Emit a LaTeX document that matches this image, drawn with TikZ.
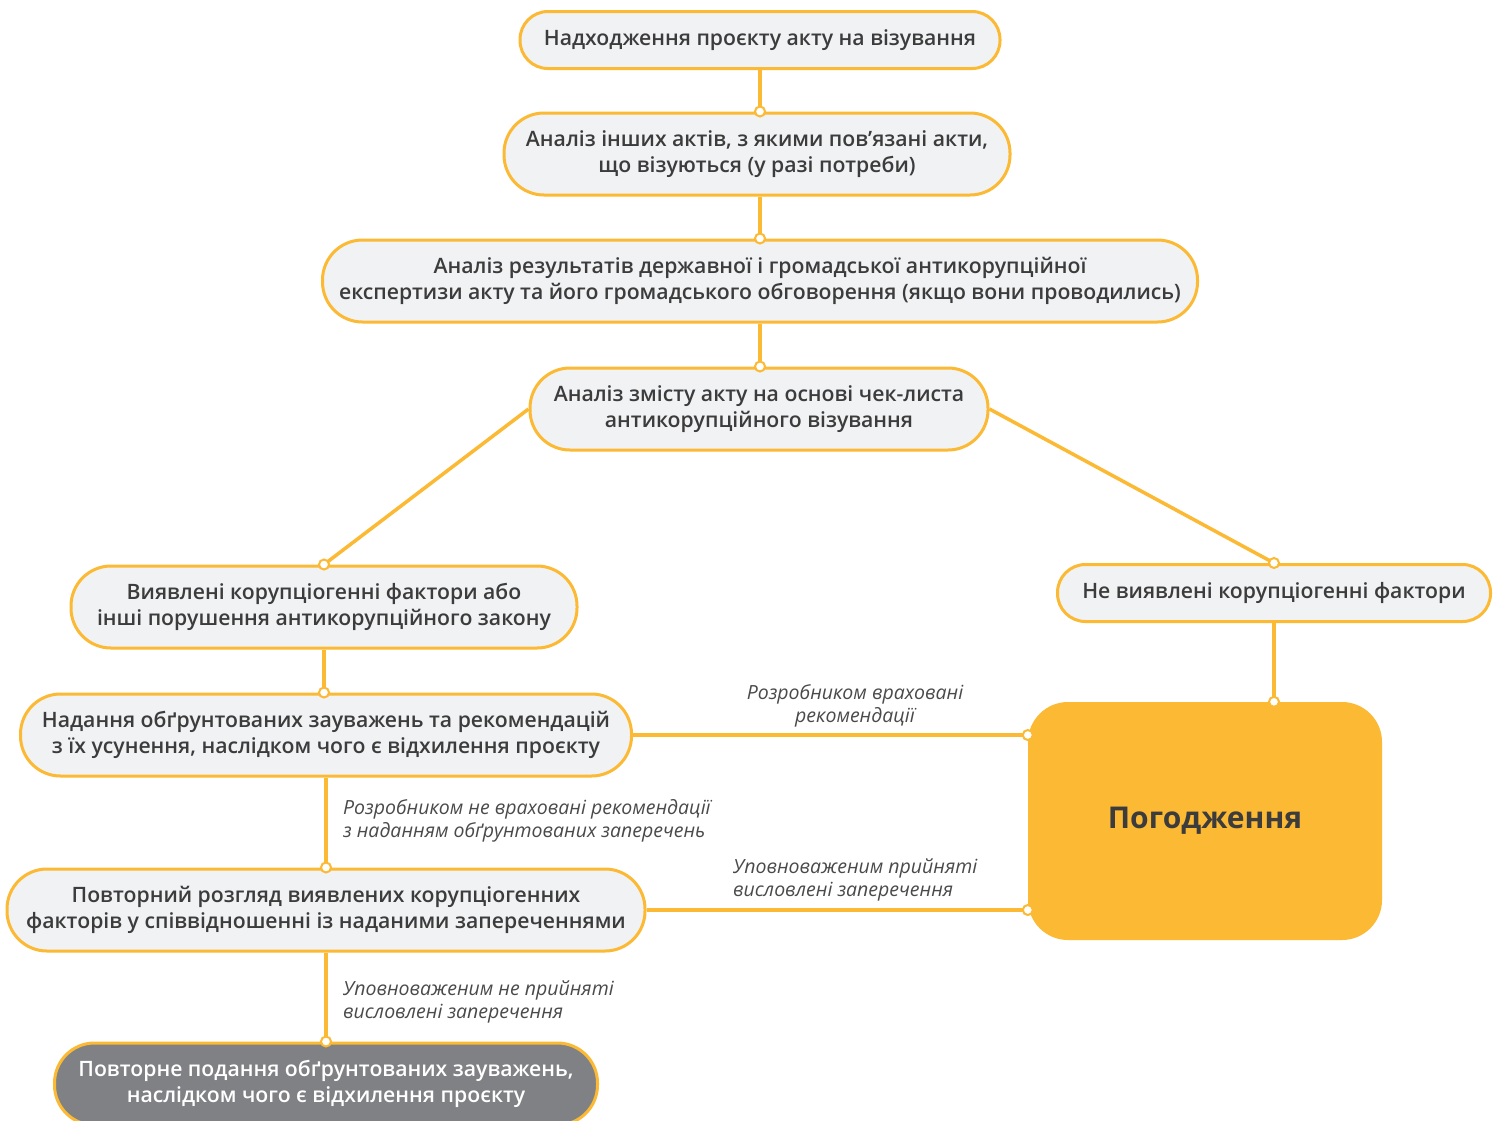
\documentclass[tikz,border=0pt]{standalone}
\usepackage{fontspec}
\IfFontExistsTF{Open Sans SemiBold}{%
  \setmainfont{Open Sans SemiBold}[BoldFont={Open Sans Bold},ItalicFont={Open Sans Italic}]}{%
  \IfFontExistsTF{Open Sans Semibold}{%
    \setmainfont{Open Sans Semibold}[BoldFont={Open Sans Bold},ItalicFont={Open Sans Italic}]}{%
    \setmainfont{Open Sans}}}
\IfFontExistsTF{Open Sans SemiBold Italic}{%
  \newfontfamily\lblfont{Open Sans SemiBold Italic}}{%
  \newfontfamily\lblfont{Open Sans Italic}}
\definecolor{ylw}{HTML}{FBB934}
\definecolor{nodefill}{HTML}{F1F2F4}
\definecolor{txt}{HTML}{3C3C3C}
\definecolor{lbltxt}{HTML}{4A4A4A}
\definecolor{greyfill}{HTML}{808184}
\begin{document}
\begin{tikzpicture}[x=1pt,y=-1pt,
  box/.style={draw=ylw,line width=3pt,fill=nodefill,text=txt,align=center,
    font=\fontsize{21.2}{26}\selectfont,inner sep=0pt},
  tall/.style={box,minimum height=82pt,rounded corners=40pt},
  short/.style={box,minimum height=57pt,rounded corners=28pt},
  conn/.style={draw=ylw,line width=3.5pt},
  dotm/.style={circle,draw=ylw,line width=2pt,fill=white,inner sep=0pt,minimum size=10pt},
  lbl/.style={text=lbltxt,font=\lblfont\fontsize{19.5}{23}\selectfont,inner sep=0pt}]
\useasboundingbox (0,0) rectangle (1499,1120);
\fill[white] (0,0) rectangle (1499,1120);

\node[short,minimum width=480pt] (n1) at (760,40) {Надходження проєкту акту на візування};
\node[tall,minimum width=506pt] (n2) at (757,154) {Аналіз інших актів, з якими пов’язані акти,\\що візуються (у разі потреби)};
\node[tall,minimum width=875pt] (n3) at (760,281) {Аналіз результатів державної і громадської антикорупційної\\експертизи акту та його громадського обговорення (якщо вони проводились)};
\node[tall,minimum width=458pt] (n4) at (759,409) {Аналіз змісту акту на основі чек-листа\\антикорупційного візування};
\node[tall,minimum width=506pt] (n5) at (324,607) {Виявлені корупціогенні фактори або\\інші порушення антикорупційного закону};
\node[short,minimum width=433pt] (n6) at (1274,593) {Не виявлені корупціогенні фактори};
\node[tall,minimum width=611pt] (n7) at (326,735) {Надання обґрунтованих зауважень та рекомендацій\\з їх усунення, наслідком чого є відхилення проєкту};
\node[tall,minimum width=638pt] (n8) at (326,910) {Повторний розгляд виявлених корупціогенних\\факторів у співвідношенні із наданими запереченнями};
\node[tall,minimum width=543pt,fill=greyfill,text=white] (n9) at (326,1084) {Повторне подання обґрунтованих зауважень,\\наслідком чого є відхилення проєкту};
\node[fill=ylw,minimum width=354pt,minimum height=238pt,rounded corners=40pt,inner sep=0pt,
  text=txt,font=\bfseries\fontsize{30}{36}\selectfont] (pog) at (1205,821) {Погодження};

\coordinate (p2) at (n1.south |- n2.north);
\coordinate (p3) at (n1.south |- n3.north);
\coordinate (p4) at (n1.south |- n4.north);
\coordinate (p7) at (n5.south |- n7.north);
\coordinate (pgt) at (n6.south |- pog.north);
\coordinate (pg1) at (n7.east -| pog.west);
\coordinate (pg2) at (n8.east -| pog.west);
\coordinate (p8) at (n7.south |- n8.north);
\coordinate (p9) at (n8.south |- n9.north);

\draw[conn] (n1.south) -- (p2);
\draw[conn] (n2.south -| p2) -- (p3);
\draw[conn] (n3.south) -- (p4);
\draw[conn] (n4.west) -- (n5.north);
\draw[conn] (n4.east) -- (n6.north);
\draw[conn] (n5.south) -- (p7);
\draw[conn] (n6.south) -- (pgt);
\draw[conn] (n7.east) -- (pg1);
\draw[conn] (n8.east) -- (pg2);
\draw[conn] (n7.south) -- (p8);
\draw[conn] (n8.south) -- (p9);

\node[dotm] (d2) at (p2) {};
\node[dotm] (d3) at (p3) {};
\node[dotm] (d4) at (p4) {};
\node[dotm] (d5) at (n5.north) {};
\node[dotm] (d6) at (n6.north) {};
\node[dotm] (d7) at (p7) {};
\node[dotm] (dg) at (pgt) {};
\node[dotm] (dg1) at (pg1) {};
\node[dotm] (dg2) at (pg2) {};
\node[dotm] (d8) at (p8) {};
\node[dotm] (d9) at (p9) {};

\node[lbl,align=center] (l1) at (855,706) {Розробником враховані\\рекомендації};
\node[lbl,align=left,anchor=west] (l2) at (343,821) {Розробником не враховані рекомендації\\з наданням обґрунтованих заперечень};
\node[lbl,align=left,anchor=west] (l3) at (733,880) {Уповноваженим прийняті\\висловлені заперечення};
\node[lbl,align=left,anchor=west] (l4) at (343,1002) {Уповноваженим не прийняті\\висловлені заперечення};
\end{tikzpicture}
\end{document}
